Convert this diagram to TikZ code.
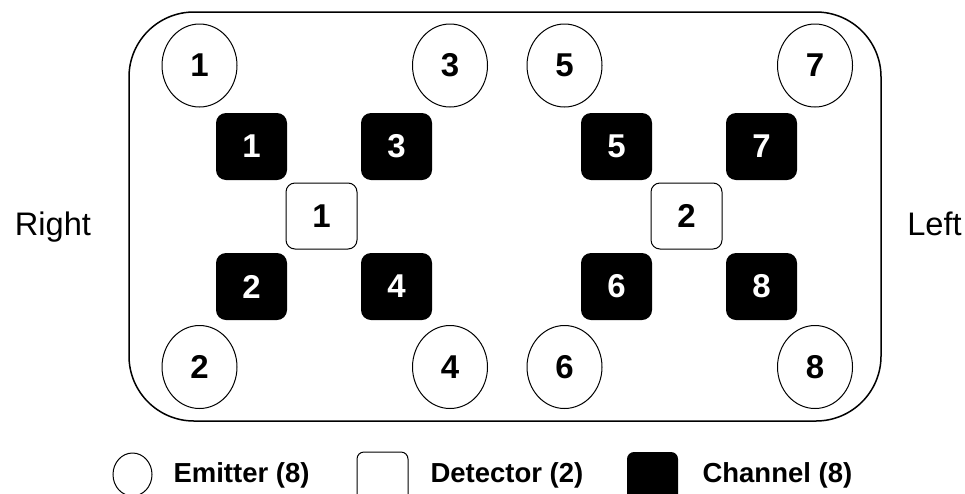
\documentclass[tikz,border=0pt]{standalone}
\usepackage{fontspec}
\setmainfont{Liberation Sans}
\usepackage{tikz}
\usetikzlibrary{shapes.geometric}

\begin{document}
\begin{tikzpicture}[x=1pt, y=-1pt, line width=1pt,
    emitter/.style={draw, ellipse, inner sep=0pt, minimum width=75pt, minimum height=83pt,
        font=\fontsize{33}{40}\selectfont\bfseries},
    channel/.style={fill=black, text=white, rectangle, rounded corners=10pt, inner sep=0pt,
        minimum width=71pt, minimum height=67pt, font=\fontsize{33}{40}\selectfont\bfseries},
    detector/.style={draw, fill=white, rectangle, rounded corners=9pt, inner sep=0pt,
        minimum width=71pt, minimum height=66pt, font=\fontsize{33}{40}\selectfont\bfseries},
    side/.style={anchor=base, inner sep=0pt, font=\fontsize{32.6}{39}\selectfont},
    legend/.style={anchor=base west, inner sep=0pt, font=\fontsize{27.5}{33}\selectfont\bfseries}]
    \useasboundingbox (0,0) rectangle (965,493);
    \clip (0,0) rectangle (965,493);

    % frame
    \draw[line width=1.5pt, rounded corners=65pt] (129,12) rectangle (881,421);

    \node[side] (right) at (53,235) {Right};
    \node[side] (left) at (934.5,235) {Left};

    % emitters
    \node[emitter] (E1) at (199.5,65.5) {1};
    \node[emitter] (E3) at (450,65.5) {3};
    \node[emitter] (E5) at (564.5,65.5) {5};
    \node[emitter] (E7) at (815,65.5) {7};
    \node[emitter] (E2) at (199.5,367) {2};
    \node[emitter] (E4) at (450,367) {4};
    \node[emitter] (E6) at (564.5,367) {6};
    \node[emitter] (E8) at (815,367) {8};

    % channels
    \node[channel] (C1) at (251.5,146.5) {1};
    \node[channel] (C3) at (396.5,146.5) {3};
    \node[channel] (C2) at (251.5,286.5) {2};
    \node[channel] (C4) at (396.5,286.5) {4};
    \node[channel] (C5) at (616.5,146.5) {5};
    \node[channel] (C7) at (761.5,146.5) {7};
    \node[channel] (C6) at (616.5,286.5) {6};
    \node[channel] (C8) at (761.5,286.5) {8};

    % detectors
    \node[detector] (D1) at (321.5,216) {1};
    \node[detector] (D2) at (686.5,216) {2};

    % legend
    \node[draw, ellipse, inner sep=0pt, minimum width=39pt, minimum height=43pt] (LE) at (132.5,474.5) {};
    \node[legend] (LEtext) at (173,482) {Emitter (8)};
    \node[draw, rectangle, rounded corners=7pt, inner sep=0pt, minimum width=51pt, minimum height=50pt] (LD) at (382.5,477) {};
    \node[legend] (LDtext) at (430,482) {Detector (2)};
    \node[fill=black, rectangle, rounded corners=7pt, inner sep=0pt, minimum width=51pt, minimum height=50pt] (LC) at (652.5,477) {};
    \node[legend] (LCtext) at (702,482) {Channel (8)};
\end{tikzpicture}
\end{document}
